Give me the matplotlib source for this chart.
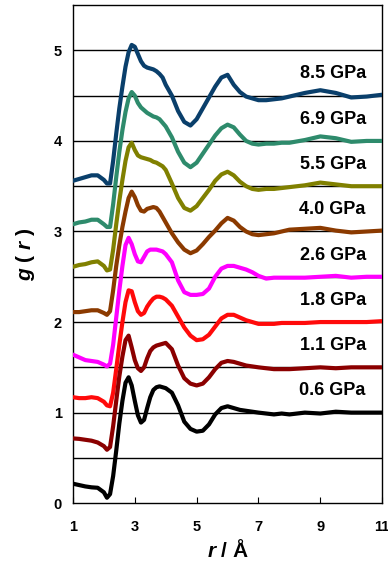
import matplotlib.pyplot as plt

plt.rcParams['font.family'] = 'Liberation Sans'
plt.rcParams['mathtext.fontset'] = 'custom'
plt.rcParams['mathtext.it'] = 'Liberation Sans:italic:bold'
plt.rcParams['mathtext.rm'] = 'Liberation Sans:bold'

# r in Angstrom, g(r) (curves already stacked by 0.5)
r = [1.0, 1.2, 1.4, 1.6, 1.8, 2.0, 2.1, 2.2, 2.3, 2.4, 2.5, 2.6, 2.7, 2.8, 2.9,
     3.0, 3.1, 3.2, 3.3, 3.4, 3.5, 3.6, 3.7, 3.8, 3.9, 4.0, 4.2, 4.4, 4.6, 4.8,
     5.0, 5.2, 5.4, 5.6, 5.8, 6.0, 6.2, 6.4, 6.6, 6.8, 7.0, 7.25, 7.5, 7.75, 8.0,
     8.5, 9.0, 9.5, 10.0, 10.5, 11.0]

g_06 = [0.215, 0.20, 0.185, 0.175, 0.17, 0.12, 0.06, 0.10, 0.30, 0.58, 0.88, 1.13, 1.33, 1.39, 1.30,
        1.13, 0.97, 0.89, 0.92, 1.05, 1.17, 1.25, 1.28, 1.29, 1.28, 1.27, 1.22, 1.08, 0.90, 0.82,
        0.79, 0.80, 0.87, 0.98, 1.05, 1.07, 1.05, 1.03, 1.02, 1.01, 1.00, 0.99, 0.98, 0.99, 0.98,
        1.00, 0.99, 1.01, 1.00, 1.00, 1.00]
g_11 = [0.715, 0.71, 0.70, 0.69, 0.67, 0.63, 0.59, 0.62, 0.85, 1.13, 1.40, 1.62, 1.80, 1.85, 1.72,
        1.58, 1.49, 1.46, 1.50, 1.60, 1.68, 1.72, 1.74, 1.75, 1.76, 1.77, 1.70, 1.52, 1.38, 1.32,
        1.30, 1.32, 1.39, 1.48, 1.55, 1.57, 1.56, 1.54, 1.52, 1.51, 1.50, 1.49, 1.48, 1.48, 1.48,
        1.49, 1.50, 1.49, 1.50, 1.50, 1.50]
g_18 = [1.17, 1.16, 1.16, 1.17, 1.16, 1.12, 1.08, 1.07, 1.22, 1.48, 1.75, 2.00, 2.22, 2.35, 2.34,
        2.22, 2.12, 2.08, 2.10, 2.17, 2.22, 2.26, 2.28, 2.28, 2.27, 2.25, 2.18, 2.06, 1.94, 1.85,
        1.80, 1.81, 1.86, 1.95, 2.04, 2.08, 2.08, 2.05, 2.02, 2.00, 1.98, 1.98, 1.98, 1.99, 1.99,
        1.99, 2.00, 2.00, 2.00, 2.00, 2.01]
g_26 = [1.64, 1.61, 1.58, 1.57, 1.56, 1.53, 1.51, 1.54, 1.75, 2.05, 2.35, 2.62, 2.85, 2.93, 2.86,
        2.75, 2.67, 2.66, 2.72, 2.78, 2.80, 2.80, 2.80, 2.79, 2.78, 2.75, 2.66, 2.46, 2.33, 2.30,
        2.30, 2.31, 2.37, 2.50, 2.59, 2.62, 2.62, 2.60, 2.58, 2.55, 2.51, 2.48, 2.49, 2.49, 2.49,
        2.49, 2.50, 2.51, 2.49, 2.50, 2.50]
g_40 = [2.11, 2.11, 2.12, 2.13, 2.13, 2.10, 2.08, 2.12, 2.35, 2.62, 2.85, 3.05, 3.22, 3.37, 3.44,
        3.38, 3.29, 3.23, 3.22, 3.25, 3.26, 3.27, 3.26, 3.22, 3.16, 3.10, 2.98, 2.88, 2.80, 2.76,
        2.79, 2.86, 2.94, 3.01, 3.09, 3.15, 3.12, 3.05, 3.00, 2.97, 2.96, 2.97, 2.98, 3.00, 3.02,
        3.03, 3.04, 3.01, 2.99, 3.00, 3.01]
g_55 = [2.61, 2.63, 2.64, 2.66, 2.67, 2.62, 2.57, 2.58, 2.80, 3.08, 3.34, 3.57, 3.78, 3.93, 3.98,
        3.90, 3.84, 3.82, 3.81, 3.80, 3.79, 3.77, 3.76, 3.74, 3.72, 3.68, 3.53, 3.37, 3.26, 3.23,
        3.28, 3.37, 3.46, 3.56, 3.63, 3.66, 3.62, 3.55, 3.50, 3.47, 3.46, 3.47, 3.47, 3.48, 3.49,
        3.51, 3.54, 3.52, 3.50, 3.50, 3.50]
g_69 = [3.08, 3.10, 3.11, 3.13, 3.13, 3.08, 3.05, 3.05, 3.30, 3.60, 3.88, 4.12, 4.32, 4.47, 4.54,
        4.50, 4.42, 4.37, 4.34, 4.31, 4.29, 4.27, 4.26, 4.24, 4.20, 4.16, 4.04, 3.88, 3.76, 3.71,
        3.76, 3.86, 3.96, 4.06, 4.14, 4.18, 4.15, 4.07, 4.00, 3.97, 3.96, 3.97, 3.97, 3.98, 3.98,
        4.01, 4.05, 4.03, 3.99, 4.00, 4.00]
g_85 = [3.56, 3.58, 3.60, 3.62, 3.62, 3.57, 3.53, 3.53, 3.78, 4.08, 4.36, 4.60, 4.82, 4.98, 5.06,
        5.04, 4.96, 4.88, 4.83, 4.81, 4.80, 4.79, 4.77, 4.74, 4.70, 4.62, 4.50, 4.33, 4.21, 4.17,
        4.24, 4.36, 4.48, 4.60, 4.70, 4.73, 4.62, 4.54, 4.49, 4.47, 4.45, 4.45, 4.46, 4.47, 4.49,
        4.53, 4.56, 4.53, 4.48, 4.49, 4.51]

labels = ['0.6 GPa', '1.1 GPa', '1.8 GPa', '2.6 GPa', '4.0 GPa', '5.5 GPa', '6.9 GPa', '8.5 GPa']
curves = [g_06, g_11, g_18, g_26, g_40, g_55, g_69, g_85]
colors = ['#000000', '#8b0000', '#ff0a0a', '#ff00ff', '#8b3a00', '#808000', '#2e8b6c', '#0a3f6b']

fig = plt.figure(figsize=(3.88, 5.66), dpi=100)
ax = fig.add_axes([0.188, 0.111, 0.797, 0.880])

for y in [0.5 * k for k in range(1, 11)]:
    ax.axhline(y, color='black', lw=1.0, zorder=1)

for i in range(len(curves) - 1, -1, -1):
    ax.plot(r, curves[i], color=colors[i], lw=3.0, solid_capstyle='round',
            solid_joinstyle='round', zorder=3)
    ax.text(10.47, 1.24 + 0.5 * i, labels[i], ha='right', va='center',
            fontsize=13, fontweight='bold', zorder=4)

ax.set_xlim(1, 11)
ax.set_ylim(0, 5.5)
ax.set_xticks([1, 3, 5, 7, 9, 11])
ax.set_yticks([0, 1, 2, 3, 4, 5])
ax.tick_params(axis='x', direction='in', length=4, width=0.8, pad=12, labelsize=10.5)
ax.tick_params(axis='y', length=0, pad=8, labelsize=10.5)
for lab in ax.get_xticklabels() + ax.get_yticklabels():
    lab.set_fontweight('bold')
for s in ax.spines.values():
    s.set_linewidth(1.0)

ax.set_xlabel(r'$\it{r}$ / Å', fontsize=15, fontweight='bold', labelpad=4)
ax.set_ylabel(r'$\it{g}$ ( $\it{r}$ )', fontsize=15, fontweight='bold', labelpad=12)

fig.savefig('out.png', dpi=100)
